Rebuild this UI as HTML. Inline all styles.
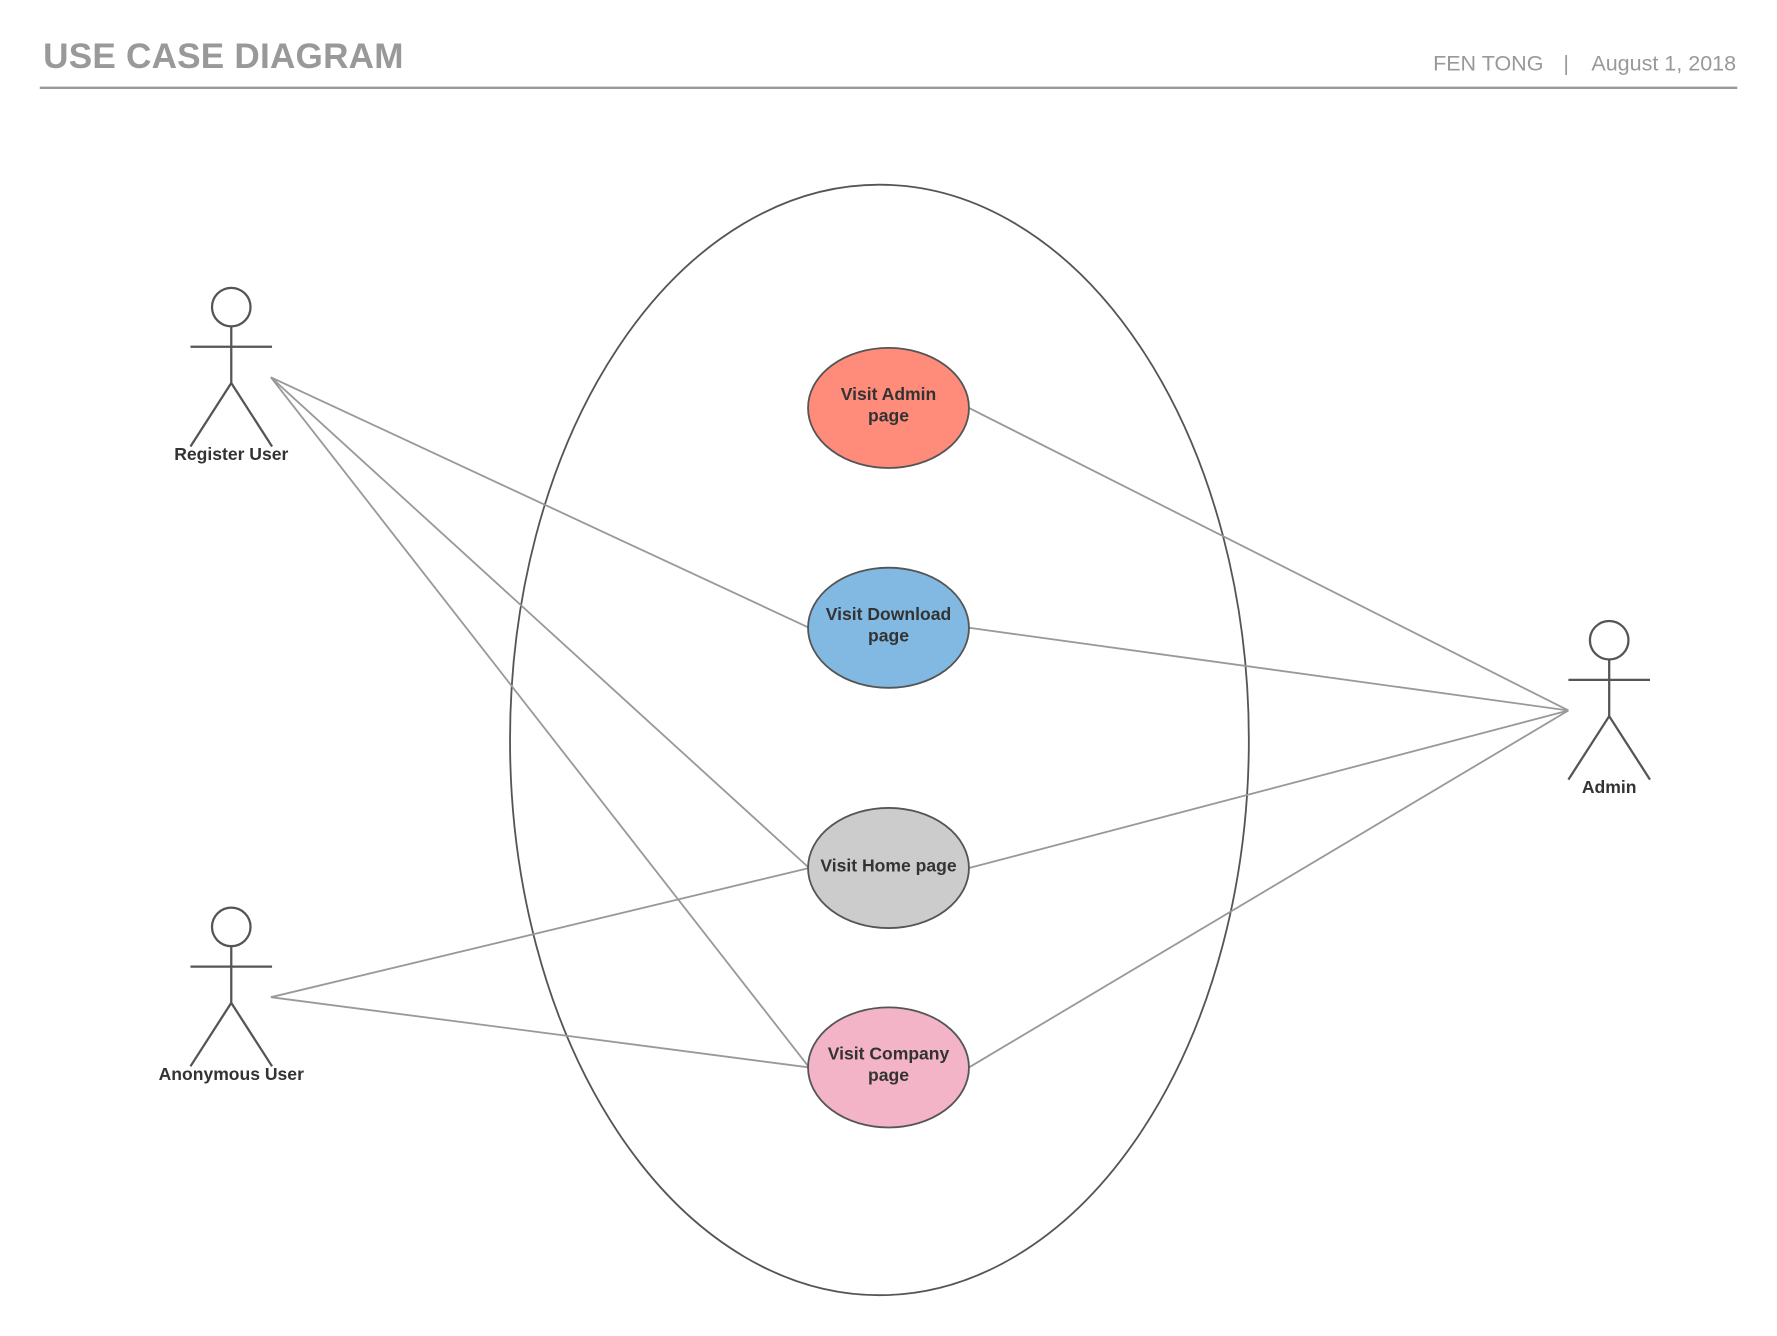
<!DOCTYPE html>
<html><head><meta charset="utf-8"><style>
html,body{margin:0;padding:0;background:#fff;}
svg{display:block;}
</style></head><body>
<svg width="1777" height="1336" viewBox="0 0 1568 1179" xmlns="http://www.w3.org/2000/svg" font-family="Liberation Sans, sans-serif">
<text x="38" y="60" font-size="31" font-weight="bold" fill="#999" textLength="318">USE CASE DIAGRAM</text>
<text x="1362" y="62" font-size="19" fill="#999" text-anchor="end">FEN TONG</text>
<text x="1382" y="62" font-size="19" fill="#999" text-anchor="middle">|</text>
<text x="1532" y="62" font-size="19" fill="#999" text-anchor="end">August 1, 2018</text>
<line x1="35" y1="77.5" x2="1533" y2="77.5" stroke="#999" stroke-width="2"/>
<ellipse cx="776" cy="653" rx="326" ry="490" fill="none" stroke="#555" stroke-width="1.6"/>
<g stroke="#999" stroke-width="1.6">
<line x1="239" y1="333" x2="714" y2="554"/>
<line x1="239" y1="333" x2="714" y2="766"/>
<line x1="239" y1="333" x2="714" y2="942"/>
<line x1="239" y1="880" x2="714" y2="766"/>
<line x1="239" y1="880" x2="714" y2="942"/>
<line x1="1384" y1="627" x2="855" y2="360"/>
<line x1="1384" y1="627" x2="855" y2="554"/>
<line x1="1384" y1="627" x2="855" y2="766"/>
<line x1="1384" y1="627" x2="855" y2="942"/>
</g>
<g stroke="#555" stroke-width="1.6">
<ellipse cx="784" cy="360" rx="71" ry="53" fill="#ff8c7a"/>
<ellipse cx="784" cy="554" rx="71" ry="53" fill="#82b9e3"/>
<ellipse cx="784" cy="766" rx="71" ry="53" fill="#cccccc"/>
<ellipse cx="784" cy="942" rx="71" ry="53" fill="#f4b4c8"/>
</g>
<g font-size="15.5" font-weight="bold" fill="#333" text-anchor="middle">
<text x="784" y="353">Visit Admin</text><text x="784" y="372">page</text>
<text x="784" y="547">Visit Download</text><text x="784" y="566">page</text>
<text x="784" y="769">Visit Home page</text>
<text x="784" y="935">Visit Company</text><text x="784" y="954">page</text>
</g>
<g stroke="#555" stroke-width="2" fill="none">
<circle cx="204" cy="271" r="17"/><line x1="204" y1="288" x2="204" y2="338"/><line x1="168" y1="306" x2="240" y2="306"/><polyline points="168,394 204,338 240,394"/>
<circle cx="204" cy="818" r="17"/><line x1="204" y1="835" x2="204" y2="885"/><line x1="168" y1="853" x2="240" y2="853"/><polyline points="168,941 204,885 240,941"/>
<circle cx="1420" cy="565" r="17"/><line x1="1420" y1="582" x2="1420" y2="632"/><line x1="1384" y1="600" x2="1456" y2="600"/><polyline points="1384,688 1420,632 1456,688"/>
</g>
<g font-size="15.5" font-weight="bold" fill="#333" text-anchor="middle">
<text x="204" y="406">Register User</text>
<text x="204" y="953">Anonymous User</text>
<text x="1420" y="700">Admin</text>
</g>
</svg>
</body></html>
